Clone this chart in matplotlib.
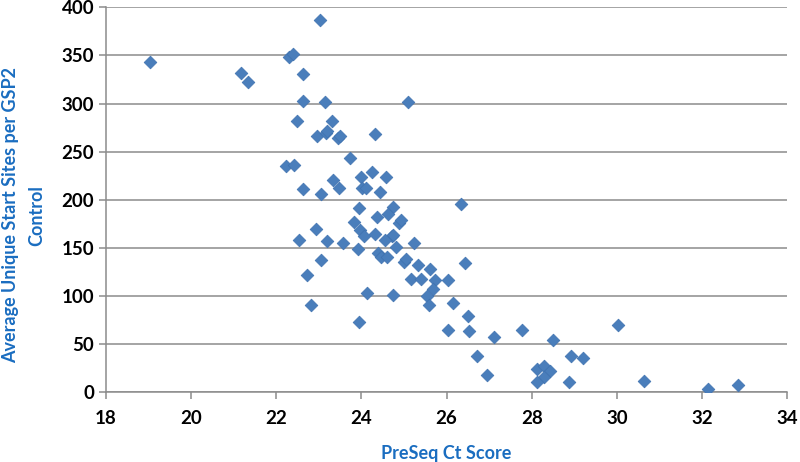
import matplotlib
matplotlib.use("Agg")
import matplotlib.pyplot as plt

# PreSeq Ct score vs average unique start sites
ct_score = [19.03, 21.17, 21.33, 22.30, 22.40, 22.62, 22.62, 23.14, 22.48, 23.30,
            22.95, 23.16, 23.20, 23.45, 23.50, 23.03, 24.32, 23.74, 22.23, 22.41,
            23.99, 24.24, 24.57, 23.34, 22.62, 23.48, 24.01, 24.11, 24.44, 23.04,
            26.33, 23.94, 24.73, 24.63, 24.36, 24.89, 24.92, 23.83, 22.93, 23.97,
            24.05, 24.31, 24.71, 24.75, 22.54, 23.19, 23.56, 24.56, 25.24, 24.80,
            23.92, 24.38, 24.46, 24.61, 25.00, 25.04, 23.04, 26.43, 25.33, 25.60,
            25.16, 25.39, 25.72, 26.04, 22.73, 25.69, 24.13, 24.73, 25.54, 25.58,
            26.16, 22.82, 26.50, 23.94, 26.04, 26.53, 25.09, 30.02, 27.77, 28.49,
            27.11, 26.72, 28.93, 29.20, 26.94, 28.13, 28.28, 28.42, 28.28, 28.13,
            28.88, 30.64, 32.13, 32.85]
unique_sites = [343, 332, 322, 348, 352, 331, 303, 302, 282, 282,
                266, 269, 271, 264, 266, 387, 268, 243, 235, 236,
                224, 229, 224, 221, 211, 212, 212, 212, 208, 206,
                196, 191, 192, 185, 182, 176, 179, 177, 170, 169,
                162, 164, 162, 163, 158, 157, 155, 158, 155, 151,
                149, 145, 140, 140, 135, 138, 137, 134, 132, 128,
                118, 118, 117, 116, 122, 107, 103, 101, 100, 91,
                93, 90, 79, 73, 64, 63, 302, 70, 65, 54,
                57, 37, 37, 35, 18, 24, 27, 22, 16, 10,
                10, 11, 3, 7]

x_ticks = [18, 20, 22, 24, 26, 28, 30, 32, 34]
y_ticks = [0, 50, 100, 150, 200, 250, 300, 350, 400]

blue_txt = "#1A6DC0"
grid_col = "#8C8C8C"

fig = plt.figure(figsize=(8, 4.62), dpi=100)
ax = fig.add_axes([0.1325, 0.1515, 0.8515, 0.8325])

ax.scatter(ct_score, unique_sites, marker="D", s=42, color="#4A7EBB",
           edgecolors="#3F72B0", linewidths=0.5, zorder=3)

ax.set_xlim(18, 34)
ax.set_ylim(0, 400)
ax.set_xticks(x_ticks)
ax.set_yticks(y_ticks)
ax.yaxis.grid(True, color=grid_col, linewidth=1.1)
ax.set_axisbelow(True)

for s in ["top", "right"]:
    ax.spines[s].set_visible(False)
for s in ["left", "bottom"]:
    ax.spines[s].set_color(grid_col)
    ax.spines[s].set_linewidth(1.1)
ax.tick_params(axis="both", colors=grid_col, length=5, width=1.1,
               labelcolor="black", labelsize=13.5)
ax.tick_params(axis="x", pad=8)
for lab in ax.get_xticklabels() + ax.get_yticklabels():
    lab.set_fontfamily("Lato")
    lab.set_fontweight("bold")

ax.set_xlabel("PreSeq Ct Score", fontsize=13, fontweight="bold",
              color=blue_txt, family="Lato", labelpad=13)
ax.set_ylabel("Average Unique Start Sites per GSP2\nControl", fontsize=13,
              fontweight="bold", color=blue_txt, family="Lato",
              linespacing=1.6, labelpad=12)
ax.yaxis.label.set_y(0.46)

fig.savefig("out.png", dpi=100)
